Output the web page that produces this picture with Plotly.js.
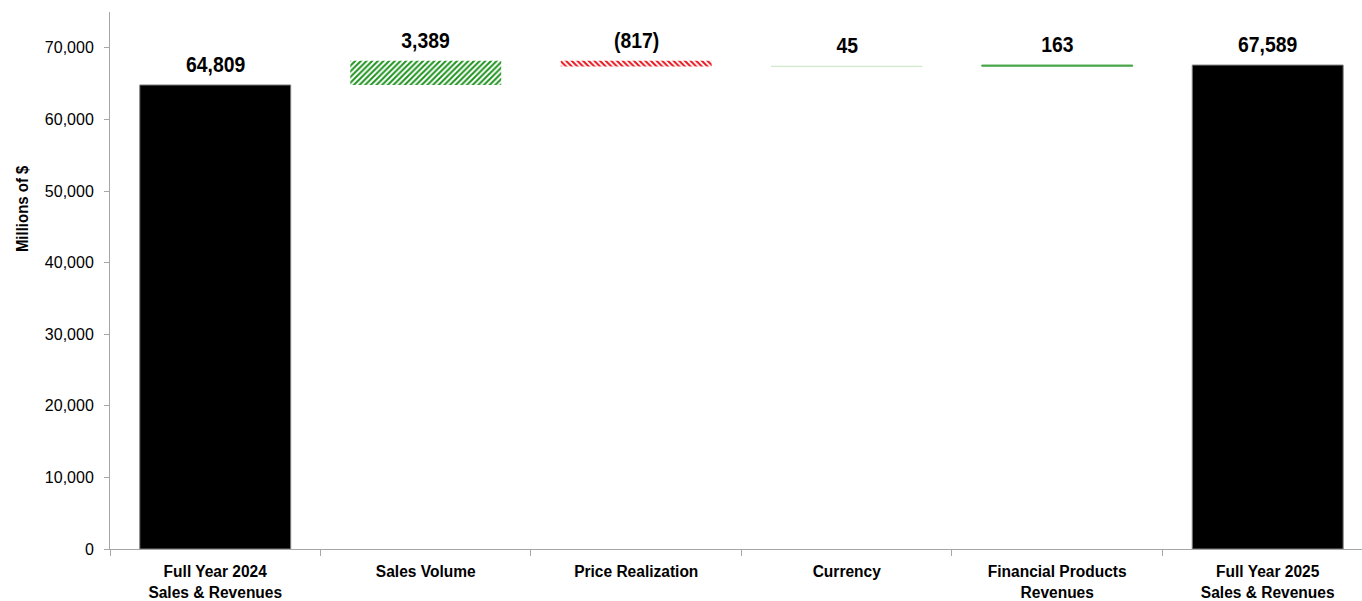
<!DOCTYPE html>
<html>
<head>
<meta charset="utf-8">
<script src="https://cdn.plot.ly/plotly-3.0.1.min.js"></script>
<style>html,body{margin:0;padding:0;background:#fff;overflow:hidden}</style>
</head>
<body>
<div id="chart" style="width:1362px;height:601px"></div>
<script>
const categories = ["Full Year 2024<br>Sales & Revenues", "Sales Volume", "Price Realization", "Currency", "Financial Products<br>Revenues", "Full Year 2025<br>Sales & Revenues"];
const startTotal = 64809;
const endTotal = 67589;
const changes = [3389, -817, 45, 163];
const labels = ["64,809", "3,389", "(817)", "45", "163", "67,589"];
const yTicks = [0, 10000, 20000, 30000, 40000, 50000, 60000, 70000];

// running bases for the change bars
const bases = [];
const heights = [];
const tops = [startTotal];
let run = startTotal;
changes.forEach(c => {
  if (c >= 0) { bases.push(run); heights.push(c); }
  else { bases.push(run + c); heights.push(-c); }
  tops.push(Math.max(run, run + c));
  run += c;
});
tops.push(endTotal);

const valueFont = {family: "Liberation Sans, Arial, sans-serif", size: 22, color: "#000", weight: "bold"};

const styles = [
  {color: "#ffffff", line: {width: 0}, pattern: {shape: "/", fgcolor: "#1f931f", bgcolor: "#ffffff", size: 4, solidity: 0.5}},
  {color: "#ffffff", line: {width: 0}, pattern: {shape: "\\", fgcolor: "#e8141e", bgcolor: "#ffffff", size: 4, solidity: 0.5}},
  {color: "#cfe8ca", line: {color: "#cfe8ca", width: 1}},
  {color: "#4aa64a", line: {color: "#4aa64a", width: 1}}
];

const traces = [];
traces.push({
  type: "bar",
  x: [categories[0], categories[5]],
  y: [startTotal, endTotal],
  width: 0.717,
  marker: {color: "#000000", line: {color: "#7f7f7f", width: 1}},
  hoverinfo: "none"
});
for (let i = 0; i < changes.length; i++) {
  traces.push({
    type: "bar",
    x: [categories[i + 1]],
    y: [heights[i]],
    base: [bases[i]],
    width: 0.717,
    marker: styles[i],
    hoverinfo: "none"
  });
}

const annotations = categories.map((c, i) => ({
  x: c, y: tops[i], xref: "x", yref: "y",
  text: labels[i], showarrow: false,
  yanchor: "bottom", xanchor: "center", yshift: 6,
  font: valueFont
}));
annotations.push({
  xref: "paper", yref: "paper", x: -0.0703, y: 0.635,
  xanchor: "center", yanchor: "middle", textangle: -90,
  text: "Millions of $", showarrow: false,
  font: {family: "Liberation Sans, Arial, sans-serif", size: 17, color: "#000", weight: "bold"}
});

const layout = {
  width: 1362,
  height: 601,
  margin: {l: 110, r: 0, t: 12, b: 52, pad: 0},
  paper_bgcolor: "#ffffff",
  plot_bgcolor: "#ffffff",
  showlegend: false,
  barmode: "overlay",
  font: {family: "Liberation Sans, Arial, sans-serif", color: "#000"},
  annotations: annotations,
  xaxis: {
    type: "category",
    categoryorder: "array",
    categoryarray: categories,
    range: [-0.5, 5.448],
    showline: true,
    linecolor: "#a6a6a6",
    linewidth: 1,
    ticks: "outside",
    tickson: "boundaries",
    ticklen: 6,
    tickcolor: "#a6a6a6",
    ticklabelstandoff: 8,
    showgrid: false,
    zeroline: false,
    tickfont: {family: "Liberation Sans, Arial, sans-serif", size: 16, color: "#000", weight: "bold"}
  },
  yaxis: {
    range: [0, 75000],
    tickvals: yTicks,
    tickformat: ",",
    showline: true,
    linecolor: "#a6a6a6",
    linewidth: 1,
    ticks: "outside",
    ticklen: 5,
    tickcolor: "#a6a6a6",
    ticklabelstandoff: 7,
    showgrid: false,
    zeroline: false,
    tickfont: {family: "Liberation Sans, Arial, sans-serif", size: 16, color: "#000"}
  }
};

function condense(root, selector, factor) {
  root.querySelectorAll(selector).forEach(t => {
    const lines = t.querySelectorAll("tspan.line");
    const targets = lines.length ? Array.from(lines) : [t];
    targets.forEach(el => {
      const len = el.getComputedTextLength();
      if (len > 0) {
        el.setAttribute("textLength", (len * factor).toFixed(2));
        el.setAttribute("lengthAdjust", "spacingAndGlyphs");
      }
    });
  });
}

const gd = document.getElementById("chart");
Plotly.newPlot(gd, traces, layout, {displayModeBar: false, staticPlot: true}).then(() => {
  condense(gd, ".xtick text", 0.97);
  condense(gd, "text.annotation-text", 0.88);
});
</script>
</body>
</html>
